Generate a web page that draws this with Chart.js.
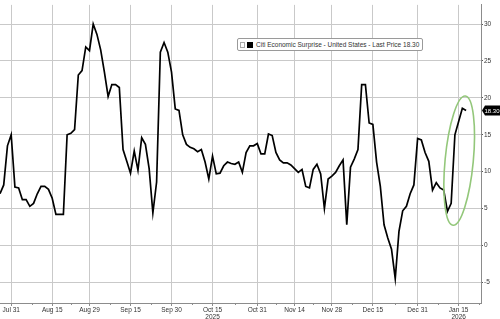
<!DOCTYPE html>
<html>
<head>
<meta charset="utf-8">
<script src="https://cdn.jsdelivr.net/npm/chart.js@4/dist/chart.umd.min.js"></script>
<style>
html,body{margin:0;padding:0;background:#fff;overflow:hidden;}
#wrap{position:relative;width:500px;height:319px;}
#c{position:absolute;left:0;top:0;}
#legend{position:absolute;left:237px;top:38px;height:11px;padding:0 3px 0 2px;border:1px solid #9a9a9a;border-radius:2px;background:#fff;
  font:6.5px "Liberation Sans",Arial,sans-serif;color:#333;display:flex;align-items:center;white-space:nowrap;}
#legend .ic{display:inline-block;width:3px;height:4px;border:1px solid #aaa;margin-right:2px;}
#legend .sq{display:inline-block;width:6px;height:6px;background:#000;margin-right:3px;}
</style>
</head>
<body>
<div id="wrap">
  <canvas id="c" width="500" height="319"></canvas>
  <div id="legend"><span class="ic"></span><span class="sq"></span><span id="legtext">Citi Economic Surprise - United States - Last Price 18.30</span></div>
</div>
<script>
// Business-day categories (Jul 28, 2025 -> Jan 23, 2026)
const dates = [
  'Jul 28','Jul 29','Jul 30','Jul 31',
  'Aug 1','Aug 4','Aug 5','Aug 6','Aug 7','Aug 8','Aug 11','Aug 12','Aug 13','Aug 14','Aug 15','Aug 18','Aug 19','Aug 20','Aug 21','Aug 22','Aug 25','Aug 26','Aug 27','Aug 28','Aug 29',
  'Sep 1','Sep 2','Sep 3','Sep 4','Sep 5','Sep 8','Sep 9','Sep 10','Sep 11','Sep 12','Sep 15','Sep 16','Sep 17','Sep 18','Sep 19','Sep 22','Sep 23','Sep 24','Sep 25','Sep 26','Sep 29','Sep 30',
  'Oct 1','Oct 2','Oct 3','Oct 6','Oct 7','Oct 8','Oct 9','Oct 10','Oct 13','Oct 14','Oct 15','Oct 16','Oct 17','Oct 20','Oct 21','Oct 22','Oct 23','Oct 24','Oct 27','Oct 28','Oct 29','Oct 30','Oct 31',
  'Nov 3','Nov 4','Nov 5','Nov 6','Nov 7','Nov 10','Nov 11','Nov 12','Nov 13','Nov 14','Nov 17','Nov 18','Nov 19','Nov 20','Nov 21','Nov 24','Nov 25','Nov 26','Nov 27','Nov 28',
  'Dec 1','Dec 2','Dec 3','Dec 4','Dec 5','Dec 8','Dec 9','Dec 10','Dec 11','Dec 12','Dec 15','Dec 16','Dec 17','Dec 18','Dec 19','Dec 22','Dec 23','Dec 24','Dec 25','Dec 26','Dec 29','Dec 30','Dec 31',
  'Jan 1','Jan 2','Jan 5','Jan 6','Jan 7','Jan 8','Jan 9','Jan 12','Jan 13','Jan 14','Jan 15','Jan 16','Jan 19','Jan 20','Jan 21','Jan 22','Jan 23'
];

// Citi Economic Surprise Index - United States
const surprise = [
  7.0, 8.2, 13.5, 15.0, 7.9, 7.8, 6.2, 6.2, 5.3, 5.7,
  7.0, 8.0, 8.0, 7.6, 6.4, 4.2, 4.2, 4.2, 15.0, 15.2,
  15.7, 23.1, 23.7, 26.9, 26.4, 30.0, 28.6, 26.5, 23.5, 20.2,
  21.8, 21.8, 21.4, 13.0, 11.4, 9.8, 12.8, 10.2, 14.6, 13.7,
  10.4, 4.4, 8.6, 26.2, 27.5, 26.2, 23.5, 18.5, 18.3, 15.0,
  13.7, 13.3, 13.1, 12.7, 13.0, 11.3, 9.0, 12.1, 9.7, 9.8,
  10.8, 11.3, 11.1, 11.0, 11.3, 9.9, 12.6, 13.5, 13.5, 13.8,
  12.4, 12.4, 15.1, 14.9, 12.6, 11.6, 11.2, 11.2, 10.9, 10.4,
  9.9, 10.3, 8.0, 7.8, 10.3, 11.0, 9.7, 5.0, 9.0, 9.4,
  9.9, 10.8, 11.6, 2.8, 10.6, 11.7, 13.0, 21.8, 21.8, 16.6,
  16.4, 11.3, 8.0, 2.8, 1.0, -0.5, -4.5, 1.9, 4.7, 5.3,
  7.0, 8.2, 14.5, 14.3, 12.6, 11.4, 7.5, 8.5, 7.8, 7.5,
  4.6, 5.7, 15.0, 16.8, 18.6, 18.3
];

// Tick labels
const tickDates = ['Jul 31','Aug 15','Aug 29','Sep 15','Sep 30','Oct 15','Oct 31','Nov 14','Nov 28','Dec 15','Dec 31','Jan 15'];
const tickYears = {'Oct 15':'2025','Jan 15':'2026'};
const yTickStep = 5;

const FONT = 'Liberation Sans, Arial, sans-serif';
const GRID = '#c9c9c9';
const AXIS = '#8c8c8c';

// Highlight ellipse (in data units: category index range, value range)
const highlight = {x0: 119.1, x1: 127.2, y0: 2.7, y1: 20.3, tilt: 0.095, color: '#93c77a'};

const extrasPlugin = {
  id: 'extras',
  afterDraw(chart) {
    const ctx = chart.ctx, xs = chart.scales.x, ys = chart.scales.y, ca = chart.chartArea;
    // minor ticks between labelled dates
    const idx = tickDates.map(d => dates.indexOf(d));
    ctx.save();
    ctx.strokeStyle = AXIS; ctx.lineWidth = 1;
    const mids = [];
    for (let i = 0; i < idx.length - 1; i++) mids.push((idx[i] + idx[i+1]) / 2);
    mids.push(idx[idx.length-1] + (idx[idx.length-1] - idx[idx.length-2]) / 2);
    mids.forEach(m => {
      const px = Math.round(xs.getPixelForValue(m)) + 0.5;
      if (px < ca.right) { ctx.beginPath(); ctx.moveTo(px, ca.bottom); ctx.lineTo(px, ca.bottom + 2); ctx.stroke(); }
    });
    // highlight ellipse
    const cx = (xs.getPixelForValue(highlight.x0) + xs.getPixelForValue(highlight.x1)) / 2;
    const cy = (ys.getPixelForValue(highlight.y0) + ys.getPixelForValue(highlight.y1)) / 2;
    const rx = (xs.getPixelForValue(highlight.x1) - xs.getPixelForValue(highlight.x0)) / 2 - 1;
    const ry = (ys.getPixelForValue(highlight.y0) - ys.getPixelForValue(highlight.y1)) / 2;
    ctx.strokeStyle = highlight.color; ctx.lineWidth = 1.6;
    ctx.beginPath(); ctx.ellipse(cx, cy, rx, ry, highlight.tilt, 0, Math.PI * 2); ctx.stroke();
    // last price tag
    const last = surprise[surprise.length - 1];
    const y = ys.getPixelForValue(last);
    const x = ca.right + 1;
    ctx.fillStyle = '#000';
    ctx.beginPath();
    ctx.moveTo(x, y);
    ctx.lineTo(x + 3, y - 5);
    ctx.lineTo(chart.width, y - 5);
    ctx.lineTo(chart.width, y + 5);
    ctx.lineTo(x + 3, y + 5);
    ctx.closePath();
    ctx.fill();
    ctx.fillStyle = '#fff';
    ctx.font = '6px ' + FONT;
    ctx.textAlign = 'right'; ctx.textBaseline = 'middle';
    ctx.fillText(last.toFixed(2), chart.width - 0.5, y + 0.5);
    ctx.restore();
  }
};

new Chart(document.getElementById('c'), {
  type: 'line',
  data: {
    labels: dates,
    datasets: [{
      data: surprise,
      borderColor: '#000',
      borderWidth: 1.7,
      pointRadius: 0,
      tension: 0,
      fill: false
    }]
  },
  options: {
    responsive: false,
    animation: false,
    devicePixelRatio: 1,
    layout: { padding: 0 },
    plugins: { legend: { display: false }, tooltip: { enabled: false } },
    scales: {
      x: {
        type: 'category',
        offset: false,
        grid: { color: GRID, lineWidth: 1, borderDash: [1, 2], drawTicks: true, tickLength: 3, tickColor: AXIS, tickBorderDash: [] },
        border: { display: true, color: AXIS, width: 1 },
        ticks: {
          autoSkip: false, maxRotation: 0, minRotation: 0, padding: 0,
          color: '#333', font: { size: 6.5, family: FONT, lineHeight: 1.2 },
          callback(value) {
            const lab = this.getLabelForValue(value);
            return tickYears[lab] ? [lab, tickYears[lab]] : lab;
          }
        },
        afterBuildTicks(s) { s.ticks = s.ticks.filter(t => tickDates.includes(dates[t.value])); },
        afterFit(s) { s.height = 16; }
      },
      y: {
        position: 'right',
        min: -7.8, max: 32.6,
        grid: { color: GRID, lineWidth: 1, borderDash: [1, 2], drawTicks: true, tickLength: 2, tickColor: '#555', tickBorderDash: [] },
        border: { display: true, color: AXIS, width: 1 },
        ticks: { stepSize: yTickStep, padding: 1, color: '#333', font: { size: 6.5, family: FONT } },
        afterBuildTicks(s) { s.ticks = s.ticks.filter(t => Math.abs(t.value % yTickStep) < 1e-9); },
        afterFit(s) { s.width = 19; }
      }
    }
  },
  plugins: [extrasPlugin]
});
</script>
</body>
</html>
